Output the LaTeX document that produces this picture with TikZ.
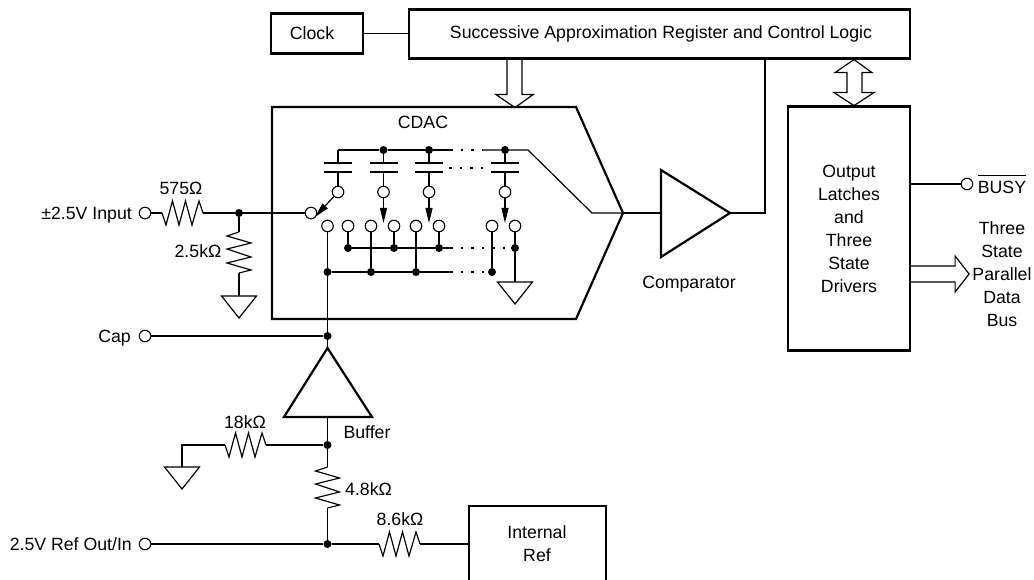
\documentclass[tikz,border=0pt]{standalone}
\usepackage{fontspec}
\setmainfont{Liberation Sans}
\usetikzlibrary{arrows.meta}
\tikzset{
  wire/.style={line width=1.2pt},
  dotwire/.style={line width=1.2pt,dash pattern=on 2.5pt off 8pt},
  heavy/.style={line width=2.2pt},
  block/.style={draw,line width=2.2pt,inner sep=0pt},
  term/.style={circle,draw,line width=1.1pt,fill=white,inner sep=0pt,minimum size=11.5pt},
  jn/.style={circle,fill=black,inner sep=0pt,minimum size=8pt},
  lbl/.style={inner sep=0pt,anchor=base,font=\fontsize{17.7}{23}\selectfont,align=center},
  swarrow/.style={wire,-{Triangle[length=15pt,width=7pt]}}
}
\begin{document}
\begin{tikzpicture}[x=1pt,y=-1pt]
\newcommand{\resh}[2]{\draw [wire] (#1) -- ++(4,12) -- ++(6.5,-24) -- ++(6.5,24) -- ++(6.5,-24) -- ++(6.5,24) -- ++(7,-24) -- ++(4,12) coordinate (#2);}
\newcommand{\resv}[2]{\draw [wire] (#1) -- ++(-12,4) -- ++(24,7) -- ++(-24,6) -- ++(24,8) -- ++(-24,6) -- ++(24,7) -- ++(-12,3) coordinate (#2);}
\newcommand{\gnd}[1]{\draw [wire] (#1) ++(-17.5,0) -- ++(35,0) -- ++(-17.5,22) -- cycle;}
\newcommand{\capa}[2]{\node [term] (s#2) at (#1,192) {};
  \draw [wire] (#1-14,163)--(#1+14,163);
  \draw [wire] (#1-14,172)--(#1+14,172);
  \draw [wire] (c#2)--(#1,163);
  \draw [wire] (#1,172)--(s#2);}
\path [clip,use as bounding box] (0,0) rectangle (1034,580);

% blocks
\node [block,minimum width=92pt,minimum height=40pt] (clock) at (317,33.5) {};
\node [block,minimum width=501pt,minimum height=49pt] (sar) at (659.5,34) {};
\node [block,minimum width=122pt,minimum height=244pt] (latch) at (849,228.5) {};
\node [block,minimum width=137pt,minimum height=84pt] (iref) at (537.5,548) {};
\node [lbl] (clocktxt) at (312,40) {Clock};
\node [lbl] (sartxt) at (661,39) {Successive Approximation Register and Control Logic};
\node [lbl,anchor=center] (latchtxt) at (849,229) {Output\\Latches\\and\\Three\\State\\Drivers};
\node [lbl,anchor=center] (ireftxt) at (537,544) {Internal\\Ref};
\node [lbl,anchor=center] (bustxt) at (1002,274) {Three\\State\\Parallel\\Data\\Bus};
\node [lbl] (busytxt) at (1002,194) {$\overline{\mbox{\rule{0pt}{17pt}BUSY}}$};

% cdac outline and the two triangles
\draw [heavy] (272,107)--(576,107)--(623,213) coordinate (tip)--(576,319)--(272,319)--cycle;
\node [lbl] (cdactxt) at (423,129) {CDAC};
\draw [heavy] (661,170)--(730,213) coordinate (cmpout)--(661,257)--cycle;
\coordinate (cmpin) at (661,213);
\node [lbl] (cmptxt) at (689,289) {Comparator};
\draw [heavy] (327.5,348) coordinate (bufout)--(372,417)--(284,417)--cycle;
\coordinate (bufin) at (327.5,417);
\node [lbl] (buftxt) at (367,438) {Buffer};

% capacitors and switch
\coordinate (c1) at (338,150);
\node [jn] (c2) at (383.5,150) {};
\node [jn] (c3) at (429,150) {};
\node [jn] (c4) at (505,150) {};
\coordinate (bus1) at (450,150);
\coordinate (bus2) at (483,150);
\coordinate (bend1) at (528,150);
\coordinate (bend2) at (592,213);
\draw [wire] (c1)--(c2)--(c3)--(bus1);
\draw [dotwire] (bus1)--(bus2);
\draw [wire] (bus2)--(c4)--(bend1)--(bend2)--(tip);
\draw [dotwire] (449,168)--(483,168);
\capa{338}{1}
\capa{383.5}{2}
\capa{429}{3}
\capa{505}{4}

\node [term] (sw) at (311,213) {};
\coordinate (sw1) at (315,217);
\draw [swarrow] (s1)--(sw1);
\draw [swarrow] (s2)--++(0,31);
\draw [swarrow] (s3)--++(0,31);
\draw [swarrow] (s4)--++(0,31);

% contacts
\node [term] (a1) at (327.5,226) {};
\node [term] (b1) at (348,226) {};
\node [term] (a2) at (371,226) {};
\node [term] (b2) at (394,226) {};
\node [term] (a3) at (416,226) {};
\node [term] (b3) at (439,226) {};
\node [term] (a4) at (492,226) {};
\node [term] (b4) at (515,226) {};
\node [jn] (jb1) at (348,248) {};
\node [jn] (jb2) at (394,248) {};
\node [jn] (jb3) at (439,248) {};
\node [jn] (jb4) at (515,248) {};
\node [jn] (ja1) at (327.5,272) {};
\node [jn] (ja2) at (371,272) {};
\node [jn] (ja3) at (416,272) {};
\node [jn] (ja4) at (492,272) {};
\coordinate (rail1) at (450,248);
\coordinate (rail2) at (450,272);
\draw [wire] (b1)--(jb1);
\draw [wire] (b2)--(jb2);
\draw [wire] (b3)--(jb3);
\draw [wire] (a2)--(ja2);
\draw [wire] (a3)--(ja3);
\draw [wire] (a4)--(ja4);
\draw [wire] (jb1)--(jb2)--(jb3)--(rail1);
\draw [dotwire] (rail1)--(jb4);
\draw [wire] (ja1)--(ja2)--(ja3)--(rail2);
\draw [dotwire] (rail2)--(ja4);
\coordinate (gnd1) at (515,282);
\draw [wire] (b4)--(jb4)--(gnd1);
\gnd{gnd1}

% input side
\node [term] (tin) at (145,213) {};
\node [lbl,anchor=base east] (intxt) at (132,219.5) {±2.5V Input};
\coordinate (r1a) at (162,213);
\draw [wire] (tin)--(r1a);
\resh{r1a}{r1b}
\node [lbl] (r1txt) at (181,195) {575Ω};
\node [jn] (jin) at (239,213) {};
\draw [wire] (r1b)--(jin)--(sw);
\coordinate (r2a) at (239,232);
\draw [wire] (jin)--(r2a);
\resv{r2a}{r2b}
\node [lbl] (r2txt) at (198,258) {2.5kΩ};
\coordinate (gnd2) at (239,296);
\draw [wire] (r2b)--(gnd2);
\gnd{gnd2}

% cap and buffer
\node [term] (tcap) at (145,336) {};
\node [lbl,anchor=base east] (captxt) at (131,342) {Cap};
\node [jn] (jcap) at (327.5,336) {};
\draw [wire] (tcap)--(jcap);
\draw [wire] (a1)--(ja1)--(jcap)--(bufout);

% reference divider
\node [jn] (jbuf) at (327.5,445) {};
\draw [wire] (bufin)--(jbuf);
\coordinate (r3a) at (225,445);
\coordinate (r3c) at (182,445);
\coordinate (gnd3) at (182,467);
\draw [wire] (gnd3)--(r3c)--(r3a);
\resh{r3a}{r3b}
\draw [wire] (r3b)--(jbuf);
\node [lbl] (r3txt) at (245,428) {18kΩ};
\gnd{gnd3}
\coordinate (r4a) at (327.5,467);
\draw [wire] (jbuf)--(r4a);
\resv{r4a}{r4b}
\node [lbl] (r4txt) at (368.5,495) {4.8kΩ};
\node [jn] (jref) at (327.5,544) {};
\draw [wire] (r4b)--(jref);
\node [term] (tref) at (145,544) {};
\node [lbl,anchor=base east] (reftxt) at (132,550) {2.5V Ref Out/In};
\coordinate (r5a) at (379,544);
\draw [wire] (tref)--(jref)--(r5a);
\resh{r5a}{r5b}
\node [lbl] (r5txt) at (400,525) {8.6kΩ};
\draw [wire] (r5b)--(r5b -| iref.west);

% top and right connections
\draw [wire] (clock.east)--(clock.east -| sar.west);
\draw [wire] (tip)--(cmpin);
\draw [wire] (cmpout)-|([xshift=105.5]sar.south);
\draw [wire] ([xshift=-152.5]sar.south)--++(0,35)--++(-11,0)--++(19,13)--++(18,-13)--++(-11,0)--([xshift=-137.5]sar.south);
\coordinate (bitop) at ([xshift=194.5]sar.south);
\draw [wire] (bitop)--++(18,13)--++(-10,0)--++(0,20)--++(12,0)--++(-20,13)--++(-20,-13)--++(13,0)--++(0,-20)--++(-12,0)--cycle;
\node [term] (tbusy) at (967,184) {};
\draw [wire] (tbusy)--(tbusy -| latch.east);
\draw [wire] ([yshift=-37.5]latch.east)--++(44,0)--++(0,-10)--++(14,18)--++(-14,18)--++(0,-10)--++(-44,0);
\end{tikzpicture}
\end{document}
